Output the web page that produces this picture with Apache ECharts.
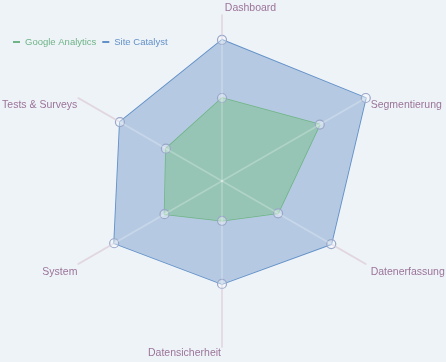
<!DOCTYPE html>
<html><head><meta charset="utf-8">
<script src="https://cdn.jsdelivr.net/npm/echarts@6/dist/echarts.min.js"></script>
<style>html,body{margin:0;padding:0;background:#eef3f8}#c{width:446px;height:362px}</style>
</head><body><div id="c"></div>
<script>
// Indicators listed counter-clockwise starting from the top
const categories = ['Dashboard', 'Tests & Surveys', 'System', 'Datensicherheit', 'Datenerfassung', 'Segmentierung'];
const siteCatalyst = [85, 71, 75, 62, 76, 100];
const googleAnalytics = [50, 39, 40, 24, 39, 68];
const seriesNames = ['Google Analytics', 'Site Catalyst'];
const axisMax = 100;

const FONT = '"Liberation Sans", Arial, sans-serif';
const LABEL_COLOR = '#9b7499';
const GREEN = '#6fb487';
const BLUE = '#6391c8';

const chart = echarts.init(document.getElementById('c'), null, { renderer: 'canvas' });
const indicator = categories.map(n => ({ name: n, min: 0, max: axisMax }));

const tokenBase = { color: LABEL_COLOR, fontSize: 10.5, fontFamily: FONT };
const radarBase = {
  center: [222, 181],
  radius: 166,
  startAngle: 90,
  shape: 'polygon',
  splitNumber: 1,
  indicator: indicator,
  splitLine: { show: false },
  splitArea: { show: false },
  axisTick: { show: false },
  axisLabel: { show: false },
  nameGap: 1
};

const option = {
  backgroundColor: '#eef3f8',
  animation: false,
  legend: {
    left: 13,
    top: 37,
    padding: 0,
    icon: 'rect',
    itemWidth: 7,
    itemHeight: 2,
    itemGap: 6,
    textStyle: { fontSize: 9.5, fontFamily: FONT },
    data: [
      { name: seriesNames[0], itemStyle: { color: GREEN, borderWidth: 0 }, textStyle: { color: GREEN } },
      { name: seriesNames[1], itemStyle: { color: BLUE, borderWidth: 0 }, textStyle: { color: BLUE } }
    ]
  },
  radar: [
    Object.assign({}, radarBase, {
      axisLine: { lineStyle: { color: '#d8c9d6', width: 1.5 } },
      axisName: {
        color: LABEL_COLOR,
        fontSize: 10.5,
        fontFamily: FONT,
        formatter: function (name) {
          const i = categories.indexOf(name);
          const k = i === 0 ? 'top' : (i === 3 ? 'bot' : 'side');
          return '{' + k + '|' + name + '}';
        },
        rich: {
          top: Object.assign({ padding: [0, 0, 0, 57] }, tokenBase),
          bot: Object.assign({ padding: [0, 75, 0, 0] }, tokenBase),
          side: Object.assign({ padding: [16, 0, 0, 4] }, tokenBase)
        }
      }
    }),
    Object.assign({}, radarBase, {
      z: 10,
      axisLine: { lineStyle: { color: 'rgba(255,255,255,0.25)', width: 1.5 } },
      axisName: { show: false }
    })
  ],
  series: [{
    type: 'radar',
    radarIndex: 0,
    z: 2,
    symbol: 'circle',
    symbolSize: 9,
    data: [
      {
        name: seriesNames[1],
        value: siteCatalyst,
        lineStyle: { color: BLUE, width: 1.8 },
        areaStyle: { color: '#b5cae2', opacity: 1 },
        itemStyle: { color: 'rgba(255,255,255,0.35)', borderColor: '#9aa6c8', borderWidth: 1.2 }
      },
      {
        name: seriesNames[0],
        value: googleAnalytics,
        lineStyle: { color: GREEN, width: 1.5 },
        areaStyle: { color: '#96c5b5', opacity: 1 },
        itemStyle: { color: 'rgba(255,255,255,0.35)', borderColor: '#9aa6c8', borderWidth: 1.2 }
      }
    ]
  }]
};
chart.setOption(option);
</script>
</body></html>
